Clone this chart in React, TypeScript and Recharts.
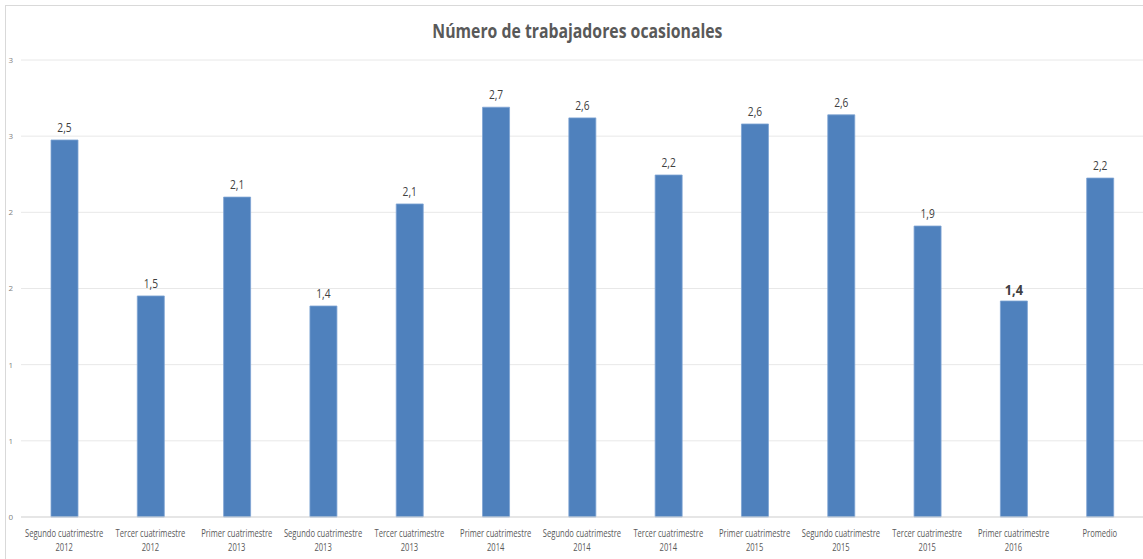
import React from "react";
import { BarChart, Bar, XAxis, YAxis, CartesianGrid, LabelList } from "recharts";

const categories = [
  "Segundo cuatrimestre 2012",
  "Tercer cuatrimestre 2012",
  "Primer cuatrimestre 2013",
  "Segundo cuatrimestre 2013",
  "Tercer cuatrimestre 2013",
  "Primer cuatrimestre 2014",
  "Segundo cuatrimestre 2014",
  "Tercer cuatrimestre 2014",
  "Primer cuatrimestre 2015",
  "Segundo cuatrimestre 2015",
  "Tercer cuatrimestre 2015",
  "Primer cuatrimestre 2016",
  "Promedio",
];
const values = [2.475, 1.451, 2.1, 1.385, 2.055, 2.69, 2.62, 2.245, 2.58, 2.64, 1.91, 1.418, 2.225];
const yTicks = [0, 0.5, 1, 1.5, 2, 2.5, 3];
const yTickLabels = ["0", "1", "1", "2", "2", "3", "3"];
const highlightIndex = 11;

const data = categories.map((c, i) => ({ name: c, value: values[i] }));

const FONT = "'Open Sans', sans-serif";

const XTick = (props: any) => {
  const { x, y, payload } = props;
  const m = /^(.*) (\d{4})$/.exec(payload.value);
  const l1 = m ? m[1] : payload.value;
  const l2 = m ? m[2] : null;
  return (
    <g transform={`translate(${x},${y + 12}) scale(0.76,1)`}>
      <text x={0} y={0} textAnchor="middle" fill="#595959" fontSize={10} fontFamily={FONT}>
        <tspan x={0} dy={0}>{l1}</tspan>
        {l2 && <tspan x={0} dy={14}>{l2}</tspan>}
      </text>
    </g>
  );
};

const BarLabel = (props: any) => {
  const { x, y, width, value, index } = props;
  const hi = index === highlightIndex;
  return (
    <g transform={`translate(${x + width / 2},${y - (hi ? 6 : 8)}) scale(0.85,1)`}>
      <text
        x={0}
        y={0}
        textAnchor="middle"
        fill="#404040"
        fontSize={hi ? 15 : 12}
        fontWeight={hi ? "bold" : "normal"}
        fontFamily={FONT}
      >
        {Number(value).toFixed(1).replace(".", ",")}
      </text>
    </g>
  );
};

export default function App() {
  return (
    <div style={{ position: "absolute", left: 0, top: 0, width: 1143, height: 559, background: "#fff", overflow: "hidden" }}>
      <div style={{ position: "absolute", left: 5, top: 5, width: 1160, height: 580, border: "1px solid #d9d9d9" }} />
      <div
        style={{
          position: "absolute",
          left: 0,
          top: 17,
          width: 1155,
          textAlign: "center",
          fontFamily: FONT,
          fontWeight: "bold",
          fontSize: 20,
          color: "#595959",
          transform: "scaleX(0.79)",
          transformOrigin: "577px 0",
        }}
      >
        Número de trabajadores ocasionales
      </div>
      <div style={{ position: "absolute", left: 0, top: 0 }}>
        <BarChart width={1143} height={559} data={data} margin={{ top: 60, right: 0, bottom: 0, left: 0 }}>
          <CartesianGrid vertical={false} stroke="#e8e8e8" />
          <XAxis
            dataKey="name"
            interval={0}
            height={42}
            tickLine={false}
            axisLine={{ stroke: "#d9d9d9" }}
            tick={<XTick />}
          />
          <YAxis
            width={21}
            domain={[0, 3]}
            ticks={yTicks}
            axisLine={false}
            tickLine={false}
            tickFormatter={(v: number) => yTickLabels[yTicks.indexOf(v)] ?? String(v)}
            tick={{ fill: "#7f7f7f", fontSize: 8, fontFamily: FONT }}
          />
          <Bar dataKey="value" fill="#4f81bd" stroke="#7ea3d3" strokeWidth={0.8} barSize={27} isAnimationActive={false}>
            <LabelList dataKey="value" content={<BarLabel />} />
          </Bar>
        </BarChart>
      </div>
    </div>
  );
}
